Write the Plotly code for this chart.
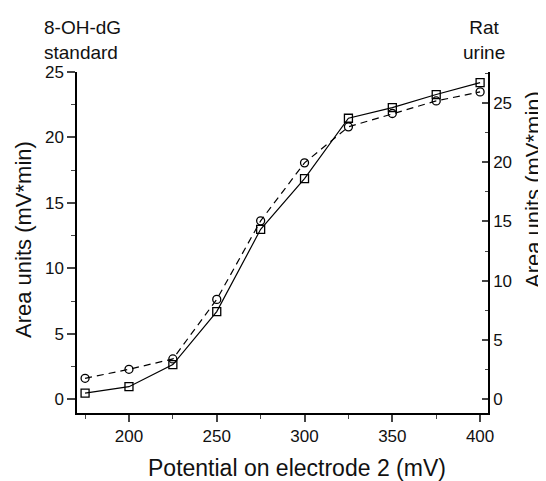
import plotly.graph_objects as go

potential = [175, 200, 225, 250, 275, 300, 325, 350, 375, 400]
standard_area = [1.60, 2.29, 3.08, 7.63, 13.63, 18.06, 20.81, 21.83, 22.79, 23.48]
urine_area = [0.51, 1.06, 2.92, 7.39, 14.33, 18.6, 23.7, 24.6, 25.7, 26.7]

x_ticks = [200, 250, 300, 350, 400]
y_ticks = [0, 5, 10, 15, 20, 25]

x_title = "Potential on electrode 2 (mV)"
y_title = "Area units (mV*min)"
left_label = "8-OH-dG<br>standard"
right_label = "Rat<br>urine"

font = "Liberation Sans, Arial, sans-serif"

# page body has an 8px default margin; figure is shrunk to fit the window
OFF = 8
FIG_W, FIG_H = 546 - OFF, 481 - OFF
# plot area in page pixels
L, R, T, B = 77, 488, 72, 413
W, H = R - L, B - T


def px(x):
    return (x - L) / W


def py(y):
    return (B - y) / H


fig = go.Figure()
fig.add_trace(go.Scatter(
    x=potential, y=standard_area, mode="lines+markers", name="8-OH-dG standard",
    line=dict(color="black", width=1.2, dash="7px,5px"),
    marker=dict(symbol="circle-open", size=8, color="black", line=dict(width=1.3)),
    yaxis="y"))
fig.add_trace(go.Scatter(
    x=potential, y=urine_area, mode="lines+markers", name="Rat urine",
    line=dict(color="black", width=1.2),
    marker=dict(symbol="square-open", size=8, color="black", line=dict(width=1.3)),
    yaxis="y2"))

fig.update_layout(
    width=FIG_W, height=FIG_H,
    margin=dict(l=L - OFF, r=546 - R, t=T - OFF, b=481 - B),
    paper_bgcolor="white", plot_bgcolor="white",
    showlegend=False,
    font=dict(family=font, size=17, color="#111111"),
    xaxis=dict(
        range=[170.4, 404.5], tickvals=x_ticks, ticks="outside", ticklen=7, tickwidth=1.5,
        showline=True, linecolor="black", linewidth=1.5, showgrid=False, zeroline=False,
        minor=dict(tickvals=[175, 225, 275, 325, 375], ticks="outside", ticklen=4, tickwidth=1.2),
        tickfont=dict(size=17)),
    yaxis=dict(
        range=[-1.05, 25.0], tickvals=y_ticks, ticks="outside", ticklen=8, tickwidth=1.5,
        showline=True, linecolor="black", linewidth=1.5, showgrid=False, zeroline=False,
        minor=dict(tickvals=[2.5, 7.5, 12.5, 17.5, 22.5], ticks="outside", ticklen=4, tickwidth=1.2),
        tickfont=dict(size=17)),
    yaxis2=dict(
        range=[-1.16, 27.6], tickvals=y_ticks, ticks="inside", ticklen=6, tickwidth=1.5,
        overlaying="y", side="right",
        showline=True, linecolor="black", linewidth=1.5, showgrid=False, zeroline=False,
        minor=dict(tickvals=[2.5, 7.5, 12.5, 17.5, 22.5, 27.5], ticks="inside", ticklen=3, tickwidth=1.2),
        tickfont=dict(size=17)),
)

fig.add_annotation(text=x_title, xref="paper", yref="paper", x=px(297), y=py(468),
                   xanchor="center", yanchor="middle", showarrow=False, font=dict(size=23))
fig.add_annotation(text=y_title, xref="paper", yref="paper", x=px(23), y=py(240),
                   xanchor="center", yanchor="middle", textangle=-90, showarrow=False,
                   font=dict(size=22))
fig.add_annotation(text=y_title, xref="paper", yref="paper", x=px(533), y=py(190),
                   xanchor="center", yanchor="middle", textangle=-90, showarrow=False,
                   font=dict(size=22))
fig.add_annotation(text=left_label, xref="paper", yref="paper", x=px(42), y=py(15),
                   xanchor="left", yanchor="top", align="left", showarrow=False,
                   font=dict(size=19))
fig.add_annotation(text=right_label, xref="paper", yref="paper", x=px(484), y=py(15),
                   xanchor="center", yanchor="top", align="center", showarrow=False,
                   font=dict(size=19))

fig.write_html("out.html")
